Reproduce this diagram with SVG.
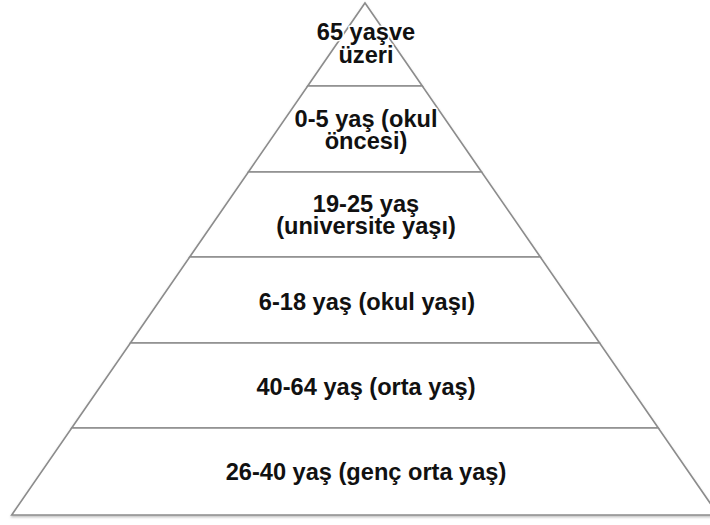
<svg xmlns="http://www.w3.org/2000/svg" width="710" height="525" viewBox="0 0 710 525">
  <defs>
    <filter id="sh" x="-5%" y="-5%" width="110%" height="110%">
      <feDropShadow dx="0" dy="1.5" stdDeviation="1" flood-color="#000" flood-opacity="0.25"/>
    </filter>
  </defs>
  <style>
    .layer { fill: #ffffff; stroke: #8c8c8c; stroke-width: 1.6; stroke-linejoin: miter; }
    .lbl { font-family: "Liberation Sans", Arial, sans-serif; font-weight: bold; font-size: 23.6px; fill: #111111; text-anchor: middle; stroke: #ffffff; stroke-width: 3; stroke-linejoin: round; paint-order: stroke fill; }
  </style>
  <rect width="710" height="525" fill="#ffffff"/>
  <g id="connectors"></g>
  <g filter="url(#sh)">
    <g id="layer-65">
      <polygon class="layer" points="365,3 422.3,86 307.7,86"/>
    </g>
    <g id="layer-0-5">
      <polygon class="layer" points="307.7,86 422.3,86 481.6,172 248.4,172"/>
    </g>
    <g id="layer-19-25">
      <polygon class="layer" points="248.4,172 481.6,172 540.3,257 189.7,257"/>
    </g>
    <g id="layer-6-18">
      <polygon class="layer" points="189.7,257 540.3,257 599.6,343 130.4,343"/>
    </g>
    <g id="layer-40-64">
      <polygon class="layer" points="130.4,343 599.6,343 658.3,428 71.7,428"/>
    </g>
    <g id="layer-26-40">
      <polygon class="layer" points="71.7,428 658.3,428 718.3,515 11.7,515"/>
    </g>
  </g>
  <g id="labels">
    <text class="lbl" x="366" y="40">65 yaşve</text>
    <text class="lbl" x="366" y="63">üzeri</text>
    <text class="lbl" x="366" y="127">0-5 yaş (okul</text>
    <text class="lbl" x="366" y="149">öncesi)</text>
    <text class="lbl" x="366" y="212">19-25 yaş</text>
    <text class="lbl" x="366" y="234">(universite yaşı)</text>
    <text class="lbl" x="367" y="310">6-18 yaş (okul yaşı)</text>
    <text class="lbl" x="366" y="395">40-64 yaş (orta yaş)</text>
    <text class="lbl" x="366" y="480">26-40 yaş (genç orta yaş)</text>
  </g>
</svg>
